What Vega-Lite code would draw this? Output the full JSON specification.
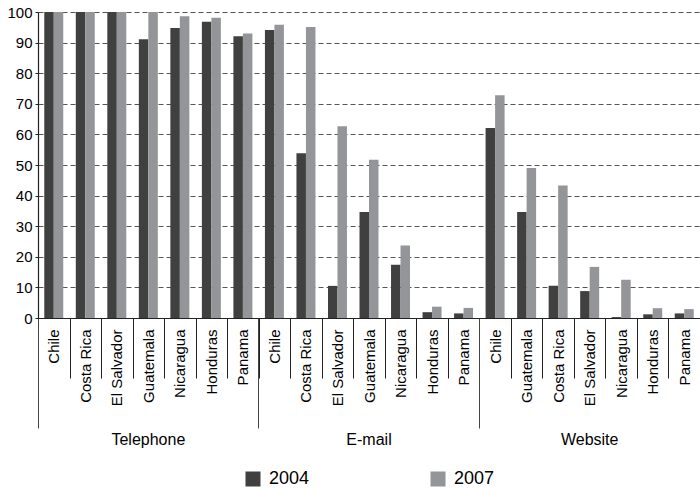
{
  "$schema": "https://vega.github.io/schema/vega-lite/v6.json",
  "autosize": {"type": "none"},
  "width": 662,
  "height": 306,
  "padding": {"left": 38, "top": 12, "right": 0, "bottom": 171},
  "config": {
    "view": {"stroke": null},
    "font": "Liberation Sans",
    "axis": {"labelFont": "Liberation Sans", "labelColor": "#000", "domainColor": "#222", "tickColor": "#222"}
  },
  "data": {"values": [
    {"key": "Telephone|Chile", "year": "2004", "value": 100},
    {"key": "Telephone|Chile", "year": "2007", "value": 100},
    {"key": "Telephone|Costa Rica", "year": "2004", "value": 100},
    {"key": "Telephone|Costa Rica", "year": "2007", "value": 100},
    {"key": "Telephone|El Salvador", "year": "2004", "value": 100},
    {"key": "Telephone|El Salvador", "year": "2007", "value": 100},
    {"key": "Telephone|Guatemala", "year": "2004", "value": 91.1},
    {"key": "Telephone|Guatemala", "year": "2007", "value": 100},
    {"key": "Telephone|Nicaragua", "year": "2004", "value": 94.8},
    {"key": "Telephone|Nicaragua", "year": "2007", "value": 98.6},
    {"key": "Telephone|Honduras", "year": "2004", "value": 96.8},
    {"key": "Telephone|Honduras", "year": "2007", "value": 98.1},
    {"key": "Telephone|Panama", "year": "2004", "value": 92.1},
    {"key": "Telephone|Panama", "year": "2007", "value": 93.0},
    {"key": "E-mail|Chile", "year": "2004", "value": 94.1},
    {"key": "E-mail|Chile", "year": "2007", "value": 95.8},
    {"key": "E-mail|Costa Rica", "year": "2004", "value": 53.8},
    {"key": "E-mail|Costa Rica", "year": "2007", "value": 95.1},
    {"key": "E-mail|El Salvador", "year": "2004", "value": 10.5},
    {"key": "E-mail|El Salvador", "year": "2007", "value": 62.7},
    {"key": "E-mail|Guatemala", "year": "2004", "value": 34.6},
    {"key": "E-mail|Guatemala", "year": "2007", "value": 51.7},
    {"key": "E-mail|Nicaragua", "year": "2004", "value": 17.4},
    {"key": "E-mail|Nicaragua", "year": "2007", "value": 23.7},
    {"key": "E-mail|Honduras", "year": "2004", "value": 1.9},
    {"key": "E-mail|Honduras", "year": "2007", "value": 3.7},
    {"key": "E-mail|Panama", "year": "2004", "value": 1.5},
    {"key": "E-mail|Panama", "year": "2007", "value": 3.3},
    {"key": "Website|Chile", "year": "2004", "value": 62.1},
    {"key": "Website|Chile", "year": "2007", "value": 72.8},
    {"key": "Website|Guatemala", "year": "2004", "value": 34.6},
    {"key": "Website|Guatemala", "year": "2007", "value": 49.0},
    {"key": "Website|Costa Rica", "year": "2004", "value": 10.5},
    {"key": "Website|Costa Rica", "year": "2007", "value": 43.3},
    {"key": "Website|El Salvador", "year": "2004", "value": 8.8},
    {"key": "Website|El Salvador", "year": "2007", "value": 16.7},
    {"key": "Website|Nicaragua", "year": "2004", "value": 0.3},
    {"key": "Website|Nicaragua", "year": "2007", "value": 12.5},
    {"key": "Website|Honduras", "year": "2004", "value": 1.2},
    {"key": "Website|Honduras", "year": "2007", "value": 3.2},
    {"key": "Website|Panama", "year": "2004", "value": 1.5},
    {"key": "Website|Panama", "year": "2007", "value": 2.9}
  ]},
  "resolve": {"axis": {"x": "independent"}},
  "layer": [
    {
      "mark": {"type": "bar"},
      "encoding": {
        "x": {
          "field": "key", "type": "nominal", "sort": null,
          "scale": {"paddingInner": 0, "paddingOuter": 0},
          "axis": {
            "orient": "bottom", "title": null,
            "labelExpr": "split(datum.value, '|')[1]",
            "labelAngle": -90, "labelFontSize": 15,
            "tickBand": "extent", "tickSize": 60, "tickWidth": 1,
            "labelPadding": -49, "domain": true, "domainWidth": 1.2,
            "grid": false
          }
        },
        "xOffset": {"field": "year", "type": "nominal", "scale": {"paddingOuter": 0.66, "paddingInner": 0}},
        "y": {
          "field": "value", "type": "quantitative",
          "scale": {"domain": [0, 100], "nice": false},
          "axis": {
            "title": null, "values": [0, 10, 20, 30, 40, 50, 60, 70, 80, 90, 100],
            "labelFontSize": 15, "tickSize": 3, "labelPadding": 3,
            "grid": true, "gridDash": [5, 3], "gridColor": "#555", "gridWidth": 1,
            "domainWidth": 1.2
          }
        },
        "color": {
          "field": "year", "type": "nominal",
          "scale": {"domain": ["2004", "2007"], "range": ["#404040", "#939598"]},
          "legend": {
            "orient": "none", "legendX": 206, "legendY": 458,
            "direction": "horizontal", "title": null,
            "symbolType": "square", "symbolSize": 225, "symbolStrokeWidth": 0,
            "symbolOpacity": 1,
            "labelFontSize": 18, "labelFont": "Liberation Sans", "labelColor": "#000",
            "labelOffset": 7, "columnPadding": 119, "padding": 0
          }
        }
      }
    },
    {
      "mark": {"type": "point", "opacity": 0},
      "encoding": {
        "x": {
          "field": "key", "type": "nominal", "sort": null,
          "axis": {
            "orient": "bottom", "title": null,
            "values": ["Telephone|Chile", "E-mail|Chile", "Website|Chile"],
            "labelExpr": "split(datum.value, '|')[0]",
            "labelAngle": 0, "labelFontSize": 16,
            "bandPosition": 0, "tickExtra": false,
            "tickSize": 110, "tickWidth": 1, "tickColor": "#444",
            "labelPadding": 3, "labelOffset": 94.6,
            "domain": false, "grid": false
          }
        }
      }
    }
  ]
}
